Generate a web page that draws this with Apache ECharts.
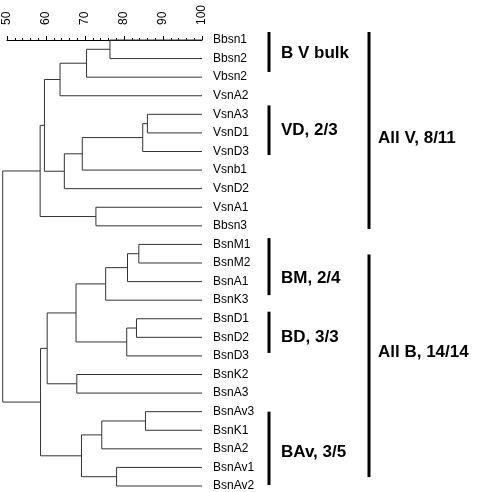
<!DOCTYPE html>
<html>
<head>
<meta charset="utf-8">
<script src="https://cdn.jsdelivr.net/npm/echarts@6/dist/echarts.min.js"></script>
<style>html,body{margin:0;padding:0;background:#fff;}#c{width:478px;height:492px;}</style>
</head>
<body>
<div id="c"></div>
<script>
// Leaf order, top to bottom
var leaves = ["Bbsn1","Bbsn2","Vbsn2","VsnA2","VsnA3","VsnD1","VsnD3","Vsnb1","VsnD2","VsnA1","Bbsn3",
  "BsnM1","BsnM2","BsnA1","BsnK3","BsnD1","BsnD2","BsnD3","BsnK2","BsnA3","BsnAv3","BsnK1","BsnA2","BsnAv1","BsnAv2"];
// Merges: [childA, childB, similarity]; "mN" refers to the N-th merge
var mergeA = ["Bbsn1","m0","m1","VsnA3","m3","m4","m5","m2","VsnA1","m7","BsnM1","m10","m11","BsnD1","m13","m12","BsnK2","m15","BsnAv3","m18","BsnAv1","m19","m17","m9"];
var mergeB = ["Bbsn2","Vbsn2","VsnA2","VsnD1","VsnD3","Vsnb1","VsnD2","m6","Bbsn3","m8","BsnM2","BsnA1","BsnK3","BsnD2","BsnD3","m14","BsnA3","m16","BsnK1","BsnA2","BsnAv2","m20","m21","m22"];
var mergeH = [76.4,70.4,63.6,86.0,84.8,69.3,64.7,59.6,72.8,58.5,83.8,80.9,75.3,83.2,80.7,67.7,67.9,60.3,85.5,74.3,78.1,69.1,58.6,48.9];
var axisTicks = [50,60,70,80,90,100];
// Group annotations (spans in leaf-row units)
var groupLabels = ["B V bulk","VD, 2/3","All V, 8/11","BM, 2/4","BD, 3/3","All B, 14/14","BAv, 3/5"];
var groupColumn = [0,0,1,0,0,1,0];
var groupFrom = [-0.43,3.52,-0.43,10.66,14.62,11.54,20.0];
var groupTo   = [1.72,6.19,10.17,13.73,16.84,23.52,23.95];
var groupLabelRow = [0.70,4.84,5.27,12.81,15.98,16.79,22.17];

// Build tree segments from the merge table
var nodeY = {}, nodeH = {};
leaves.forEach(function(n,i){ nodeY[n]=i; nodeH[n]=100; });
var segs = [];
for (var i=0;i<mergeH.length;i++){
  var a=mergeA[i], b=mergeB[i], h=mergeH[i], id='m'+i;
  var ya=nodeY[a], yb=nodeY[b];
  segs.push([h, ya, h, yb]);
  segs.push([h, ya, nodeH[a], ya]);
  segs.push([h, yb, nodeH[b], yb]);
  nodeY[id]=(ya+yb)/2; nodeH[id]=h;
}
var groups = groupLabels.map(function(l,i){ return [groupColumn[i], groupFrom[i], groupTo[i], groupLabelRow[i], i]; });

var chart = echarts.init(document.getElementById('c'), null, {renderer:'canvas'});
var FONT = '"Liberation Sans", Arial, Helvetica, sans-serif';
chart.setOption({
  animation:false,
  grid:{left:7, right:276, top:40, bottom:6, containLabel:false},
  xAxis:{type:'value', position:'top', offset:11, min:50, max:100, interval:10,
    axisLine:{show:true, lineStyle:{color:'#000', width:1}},
    axisTick:{show:true, length:4, lineStyle:{color:'#000'}},
    minorTick:{show:true, splitNumber:5, length:2, lineStyle:{color:'#000'}},
    splitLine:{show:false},
    axisLabel:{rotate:90, fontSize:12, color:'#000', fontFamily:FONT, margin:4,
      formatter:function(v){ return axisTicks.indexOf(v)>=0 ? String(v) : ''; }}
  },
  yAxis:{type:'value', position:'right', inverse:true, min:0, max:leaves.length-1, interval:1,
    axisLine:{show:false}, axisTick:{show:false}, splitLine:{show:false},
    axisLabel:{margin:11, fontSize:12, color:'#000', fontFamily:FONT,
      formatter:function(v){ return leaves[v]||''; }}
  },
  series:[{
    type:'custom', clip:false, data:segs,
    encode:{x:[0,2], y:[1,3]},
    renderItem:function(params, api){
      var p1=api.coord([api.value(0),api.value(1)]);
      var p2=api.coord([api.value(2),api.value(3)]);
      return {type:'line', shape:{x1:p1[0],y1:p1[1],x2:p2[0],y2:p2[1]},
        style:{stroke:'#333', lineWidth:1}};
    }
  },{
    type:'custom', clip:false, data:groups,
    renderItem:function(params, api){
      var col=api.value(0), i=api.value(4);
      var right=api.coord([100,0])[0];
      var bx=right + (col===0 ? 67 : 167);
      var y1=api.coord([100,api.value(1)])[1];
      var y2=api.coord([100,api.value(2)])[1];
      var ty=api.coord([100,api.value(3)])[1];
      return {type:'group', children:[
        {type:'line', shape:{x1:bx,y1:y1,x2:bx,y2:y2}, style:{stroke:'#000', lineWidth:3}},
        {type:'text', x:bx+(col===0?12:9), y:ty, style:{text:groupLabels[i], fill:'#000',
          font:'bold 17px '+FONT, textVerticalAlign:'middle', verticalAlign:'middle', textAlign:'left', align:'left'}}
      ]};
    }
  }]
});
</script>
</body>
</html>
